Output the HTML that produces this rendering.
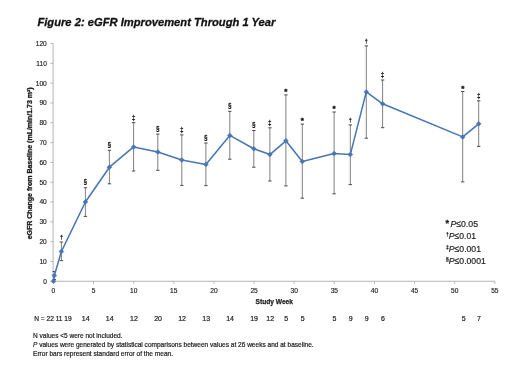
<!DOCTYPE html>
<html lang="en"><head><meta charset="utf-8"><title>Figure 2: eGFR Improvement Through 1 Year</title>
<style>
html,body{margin:0;padding:0;background:#fff;}
body{width:520px;height:390px;overflow:hidden;}
svg{display:block;filter:blur(0.35px);font-family:"Liberation Sans",sans-serif;}
</style></head><body>
<svg width="520" height="390" viewBox="0 0 520 390">
<rect width="520" height="390" fill="#fff"/>
<text x="37.4" y="25.7" font-size="11.4" font-weight="bold" font-style="italic" fill="#111" stroke="#111" stroke-width="0.3" textLength="238" lengthAdjust="spacingAndGlyphs">Figure 2: eGFR Improvement Through 1 Year</text>
<g stroke="#b4b4b4" stroke-width="1" fill="none">
<line x1="53.1" y1="43.5" x2="53.1" y2="281.25"/>
<line x1="53.4" y1="281.25" x2="494.8" y2="281.25"/>
<line x1="50.4" y1="281.25" x2="53.1" y2="281.25"/>
<line x1="50.4" y1="261.44" x2="53.1" y2="261.44"/>
<line x1="50.4" y1="241.63" x2="53.1" y2="241.63"/>
<line x1="50.4" y1="221.82" x2="53.1" y2="221.82"/>
<line x1="50.4" y1="202.01" x2="53.1" y2="202.01"/>
<line x1="50.4" y1="182.20" x2="53.1" y2="182.20"/>
<line x1="50.4" y1="162.39" x2="53.1" y2="162.39"/>
<line x1="50.4" y1="142.58" x2="53.1" y2="142.58"/>
<line x1="50.4" y1="122.77" x2="53.1" y2="122.77"/>
<line x1="50.4" y1="102.96" x2="53.1" y2="102.96"/>
<line x1="50.4" y1="83.15" x2="53.1" y2="83.15"/>
<line x1="50.4" y1="63.34" x2="53.1" y2="63.34"/>
<line x1="50.4" y1="43.53" x2="53.1" y2="43.53"/>
<line x1="53.40" y1="281.25" x2="53.40" y2="283.75"/>
<line x1="93.53" y1="281.25" x2="93.53" y2="283.75"/>
<line x1="133.66" y1="281.25" x2="133.66" y2="283.75"/>
<line x1="173.79" y1="281.25" x2="173.79" y2="283.75"/>
<line x1="213.92" y1="281.25" x2="213.92" y2="283.75"/>
<line x1="254.05" y1="281.25" x2="254.05" y2="283.75"/>
<line x1="294.18" y1="281.25" x2="294.18" y2="283.75"/>
<line x1="334.31" y1="281.25" x2="334.31" y2="283.75"/>
<line x1="374.44" y1="281.25" x2="374.44" y2="283.75"/>
<line x1="414.57" y1="281.25" x2="414.57" y2="283.75"/>
<line x1="454.70" y1="281.25" x2="454.70" y2="283.75"/>
<line x1="494.83" y1="281.25" x2="494.83" y2="283.75"/>
</g>
<g font-size="6.6" fill="#1a1a1a" stroke="#1a1a1a" stroke-width="0.15">
<text x="46.8" y="283.65" text-anchor="end">0</text>
<text x="46.8" y="263.84" text-anchor="end">10</text>
<text x="46.8" y="244.03" text-anchor="end">20</text>
<text x="46.8" y="224.22" text-anchor="end">30</text>
<text x="46.8" y="204.41" text-anchor="end">40</text>
<text x="46.8" y="184.60" text-anchor="end">50</text>
<text x="46.8" y="164.79" text-anchor="end">60</text>
<text x="46.8" y="144.98" text-anchor="end">70</text>
<text x="46.8" y="125.17" text-anchor="end">80</text>
<text x="46.8" y="105.36" text-anchor="end">90</text>
<text x="46.8" y="85.55" text-anchor="end">100</text>
<text x="46.8" y="65.74" text-anchor="end">110</text>
<text x="46.8" y="45.93" text-anchor="end">120</text>
<text x="53.40" y="293.2" text-anchor="middle">0</text>
<text x="93.53" y="293.2" text-anchor="middle">5</text>
<text x="133.66" y="293.2" text-anchor="middle">10</text>
<text x="173.79" y="293.2" text-anchor="middle">15</text>
<text x="213.92" y="293.2" text-anchor="middle">20</text>
<text x="254.05" y="293.2" text-anchor="middle">25</text>
<text x="294.18" y="293.2" text-anchor="middle">30</text>
<text x="334.31" y="293.2" text-anchor="middle">35</text>
<text x="374.44" y="293.2" text-anchor="middle">40</text>
<text x="414.57" y="293.2" text-anchor="middle">45</text>
<text x="454.70" y="293.2" text-anchor="middle">50</text>
<text x="494.83" y="293.2" text-anchor="middle">55</text>
</g>
<text transform="translate(31.8,163.3) rotate(-90)" font-size="6.6" font-weight="bold" fill="#1a1a1a" stroke="#1a1a1a" stroke-width="0.3" text-anchor="middle" textLength="152" lengthAdjust="spacingAndGlyphs">eGFR Change from Baseline (mL/min/1.73 m²)</text>
<text x="255.5" y="304.3" font-size="7.3" font-weight="bold" fill="#1a1a1a" stroke="#1a1a1a" stroke-width="0.25" textLength="37.5" lengthAdjust="spacingAndGlyphs">Study Week</text>
<g stroke="#555" stroke-width="0.75" fill="none">
<path d="M54.3 271.5V279.5"/><path stroke-width="0.9" stroke="#3a3a3a" d="M52.6 271.5H56.0M52.6 279.5H56.0"/>
<path d="M61.4 242.0V260.6"/><path stroke-width="0.9" stroke="#3a3a3a" d="M59.7 242.0H63.1M59.7 260.6H63.1"/>
<path d="M85.4 187.7V216.4"/><path stroke-width="0.9" stroke="#3a3a3a" d="M83.7 187.7H87.1M83.7 216.4H87.1"/>
<path d="M109.4 150.3V183.8"/><path stroke-width="0.9" stroke="#3a3a3a" d="M107.7 150.3H111.1M107.7 183.8H111.1"/>
<path d="M133.6 122.6V171.0"/><path stroke-width="0.9" stroke="#3a3a3a" d="M131.9 122.6H135.3M131.9 171.0H135.3"/>
<path d="M157.8 134.1V170.3"/><path stroke-width="0.9" stroke="#3a3a3a" d="M156.1 134.1H159.5M156.1 170.3H159.5"/>
<path d="M181.8 134.9V185.4"/><path stroke-width="0.9" stroke="#3a3a3a" d="M180.1 134.9H183.5M180.1 185.4H183.5"/>
<path d="M205.9 143.0V185.6"/><path stroke-width="0.9" stroke="#3a3a3a" d="M204.2 143.0H207.6M204.2 185.6H207.6"/>
<path d="M229.8 111.3V159.2"/><path stroke-width="0.9" stroke="#3a3a3a" d="M228.1 111.3H231.5M228.1 159.2H231.5"/>
<path d="M253.8 130.5V167.2"/><path stroke-width="0.9" stroke="#3a3a3a" d="M252.1 130.5H255.5M252.1 167.2H255.5"/>
<path d="M269.9 127.8V181.0"/><path stroke-width="0.9" stroke="#3a3a3a" d="M268.2 127.8H271.6M268.2 181.0H271.6"/>
<path d="M285.9 94.9V185.9"/><path stroke-width="0.9" stroke="#3a3a3a" d="M284.2 94.9H287.6M284.2 185.9H287.6"/>
<path d="M302.3 124.1V198.2"/><path stroke-width="0.9" stroke="#3a3a3a" d="M300.6 124.1H304.0M300.6 198.2H304.0"/>
<path d="M334.1 112.0V193.8"/><path stroke-width="0.9" stroke="#3a3a3a" d="M332.4 112.0H335.8M332.4 193.8H335.8"/>
<path d="M350.3 124.9V184.6"/><path stroke-width="0.9" stroke="#3a3a3a" d="M348.6 124.9H352.0M348.6 184.6H352.0"/>
<path d="M366.3 45.9V138.2"/><path stroke-width="0.9" stroke="#3a3a3a" d="M364.6 45.9H368.0M364.6 138.2H368.0"/>
<path d="M382.6 80.0V127.7"/><path stroke-width="0.9" stroke="#3a3a3a" d="M380.9 80.0H384.3M380.9 127.7H384.3"/>
<path d="M462.7 91.5V181.9"/><path stroke-width="0.9" stroke="#3a3a3a" d="M461.0 91.5H464.4M461.0 181.9H464.4"/>
<path d="M478.7 100.8V146.4"/><path stroke-width="0.9" stroke="#3a3a3a" d="M477.0 100.8H480.4M477.0 146.4H480.4"/>
</g>
<path d="M53.5 281.2 L54.3 275.6 L61.4 251.5 L85.4 202.0 L109.4 167.2 L133.6 146.9 L157.8 152.0 L181.8 160.0 L205.9 164.4 L229.8 135.4 L253.8 148.7 L269.9 154.6 L285.9 140.8 L302.3 161.5 L334.1 153.6 L350.3 154.6 L366.3 91.9 L382.6 103.8 L462.7 136.9 L478.7 123.8" fill="none" stroke="#4876b3" stroke-width="1.55" stroke-linejoin="round" stroke-linecap="round"/>
<g fill="#4876b3" stroke="#4876b3" stroke-width="0.4">
<path d="M53.5 278.7L56.0 281.2L53.5 283.7L51.0 281.2Z"/>
<path d="M54.3 273.1L56.8 275.6L54.3 278.1L51.8 275.6Z"/>
<path d="M61.4 249.0L63.9 251.5L61.4 254.0L58.9 251.5Z"/>
<path d="M85.4 199.5L87.9 202.0L85.4 204.5L82.9 202.0Z"/>
<path d="M109.4 164.7L111.9 167.2L109.4 169.7L106.9 167.2Z"/>
<path d="M133.6 144.4L136.1 146.9L133.6 149.4L131.1 146.9Z"/>
<path d="M157.8 149.5L160.3 152.0L157.8 154.5L155.3 152.0Z"/>
<path d="M181.8 157.5L184.3 160.0L181.8 162.5L179.3 160.0Z"/>
<path d="M205.9 161.9L208.4 164.4L205.9 166.9L203.4 164.4Z"/>
<path d="M229.8 132.9L232.3 135.4L229.8 137.9L227.3 135.4Z"/>
<path d="M253.8 146.2L256.3 148.7L253.8 151.2L251.3 148.7Z"/>
<path d="M269.9 152.1L272.4 154.6L269.9 157.1L267.4 154.6Z"/>
<path d="M285.9 138.3L288.4 140.8L285.9 143.3L283.4 140.8Z"/>
<path d="M302.3 159.0L304.8 161.5L302.3 164.0L299.8 161.5Z"/>
<path d="M334.1 151.1L336.6 153.6L334.1 156.1L331.6 153.6Z"/>
<path d="M350.3 152.1L352.8 154.6L350.3 157.1L347.8 154.6Z"/>
<path d="M366.3 89.4L368.8 91.9L366.3 94.4L363.8 91.9Z"/>
<path d="M382.6 101.3L385.1 103.8L382.6 106.3L380.1 103.8Z"/>
<path d="M462.7 134.4L465.2 136.9L462.7 139.4L460.2 136.9Z"/>
<path d="M478.7 121.3L481.2 123.8L478.7 126.3L476.2 123.8Z"/>
</g>
<g font-size="6" fill="#111" text-anchor="middle">
<text x="61.4" y="238.7" font-size="6.0" stroke="#111" stroke-width="0.3" textLength="3.00" lengthAdjust="spacingAndGlyphs">†</text>
<text x="85.4" y="184.4" font-size="7.8" stroke="#111" stroke-width="0.3" textLength="3.56" lengthAdjust="spacingAndGlyphs">§</text>
<text x="109.4" y="147.0" font-size="7.8" stroke="#111" stroke-width="0.3" textLength="3.56" lengthAdjust="spacingAndGlyphs">§</text>
<text x="133.6" y="119.5" font-size="7.0" stroke="#111" stroke-width="0.3" textLength="3.11" lengthAdjust="spacingAndGlyphs">‡</text>
<text x="157.8" y="130.8" font-size="7.8" stroke="#111" stroke-width="0.3" textLength="3.56" lengthAdjust="spacingAndGlyphs">§</text>
<text x="181.8" y="131.8" font-size="7.0" stroke="#111" stroke-width="0.3" textLength="3.11" lengthAdjust="spacingAndGlyphs">‡</text>
<text x="205.9" y="139.7" font-size="7.8" stroke="#111" stroke-width="0.3" textLength="3.56" lengthAdjust="spacingAndGlyphs">§</text>
<text x="229.8" y="108.0" font-size="7.8" stroke="#111" stroke-width="0.3" textLength="3.56" lengthAdjust="spacingAndGlyphs">§</text>
<text x="253.8" y="127.2" font-size="7.8" stroke="#111" stroke-width="0.3" textLength="3.56" lengthAdjust="spacingAndGlyphs">§</text>
<text x="269.9" y="124.7" font-size="7.0" stroke="#111" stroke-width="0.3" textLength="3.11" lengthAdjust="spacingAndGlyphs">‡</text>
<text x="285.9" y="94.0" font-size="8" font-weight="bold" stroke="#111" stroke-width="0.4">*</text>
<text x="302.3" y="123.2" font-size="8" font-weight="bold" stroke="#111" stroke-width="0.4">*</text>
<text x="334.1" y="111.1" font-size="8" font-weight="bold" stroke="#111" stroke-width="0.4">*</text>
<text x="350.3" y="121.6" font-size="6.0" stroke="#111" stroke-width="0.3" textLength="3.00" lengthAdjust="spacingAndGlyphs">†</text>
<text x="366.3" y="42.6" font-size="6.0" stroke="#111" stroke-width="0.3" textLength="3.00" lengthAdjust="spacingAndGlyphs">†</text>
<text x="382.6" y="76.9" font-size="7.0" stroke="#111" stroke-width="0.3" textLength="3.11" lengthAdjust="spacingAndGlyphs">‡</text>
<text x="462.7" y="90.6" font-size="8" font-weight="bold" stroke="#111" stroke-width="0.4">*</text>
<text x="478.7" y="97.7" font-size="7.0" stroke="#111" stroke-width="0.3" textLength="3.11" lengthAdjust="spacingAndGlyphs">‡</text>
</g>
<g font-size="7" fill="#1a1a1a" stroke="#1a1a1a" stroke-width="0.2">
<text x="34.2" y="320.8" textLength="37.5" lengthAdjust="spacingAndGlyphs">N = 22 11 19</text>
<text x="85.7" y="320.8" text-anchor="middle">14</text>
<text x="109.7" y="320.8" text-anchor="middle">14</text>
<text x="133.9" y="320.8" text-anchor="middle">12</text>
<text x="158.1" y="320.8" text-anchor="middle">20</text>
<text x="182.1" y="320.8" text-anchor="middle">12</text>
<text x="206.2" y="320.8" text-anchor="middle">13</text>
<text x="230.1" y="320.8" text-anchor="middle">14</text>
<text x="254.1" y="320.8" text-anchor="middle">19</text>
<text x="270.2" y="320.8" text-anchor="middle">12</text>
<text x="286.2" y="320.8" text-anchor="middle">5</text>
<text x="302.6" y="320.8" text-anchor="middle">5</text>
<text x="334.4" y="320.8" text-anchor="middle">5</text>
<text x="350.6" y="320.8" text-anchor="middle">9</text>
<text x="366.6" y="320.8" text-anchor="middle">9</text>
<text x="382.9" y="320.8" text-anchor="middle">6</text>
<text x="463.7" y="320.8" text-anchor="middle">5</text>
<text x="479.0" y="320.8" text-anchor="middle">7</text>
</g>
<g font-size="7" fill="#1a1a1a" stroke="#1a1a1a" stroke-width="0.2">
<text x="33" y="338.2" textLength="89.5" lengthAdjust="spacingAndGlyphs">N values &lt;5 were not included.</text>
<text x="33" y="347" textLength="280.7" lengthAdjust="spacingAndGlyphs"><tspan font-style="italic">P</tspan> values were generated by statistical comparisons between values at 26 weeks and at baseline.</text>
<text x="33" y="355.8" textLength="140" lengthAdjust="spacingAndGlyphs">Error bars represent standard error of the mean.</text>
</g>
<g font-size="9.7" fill="#1c1c1c" stroke="#1c1c1c" stroke-width="0.2">
<text x="445.6" y="226.3" font-size="9" font-weight="bold" stroke="#222" stroke-width="0.3">*</text>
<text x="450.4" y="226.9" textLength="27.6" lengthAdjust="spacingAndGlyphs"><tspan font-style="italic">P</tspan>≤0.05</text>
<text x="446" y="236.39999999999998" font-size="5" font-weight="bold">†</text>
<text x="448.8" y="239.2" textLength="27.2" lengthAdjust="spacingAndGlyphs"><tspan font-style="italic">P</tspan>≤0.01</text>
<text x="446" y="248.7" font-size="5" font-weight="bold">‡</text>
<text x="448.8" y="251.5" textLength="32.2" lengthAdjust="spacingAndGlyphs"><tspan font-style="italic">P</tspan>≤0.001</text>
<text x="446" y="261.0" font-size="5" font-weight="bold">§</text>
<text x="448.8" y="263.8" textLength="37.0" lengthAdjust="spacingAndGlyphs"><tspan font-style="italic">P</tspan>≤0.0001</text>
</g>
</svg></body></html>
